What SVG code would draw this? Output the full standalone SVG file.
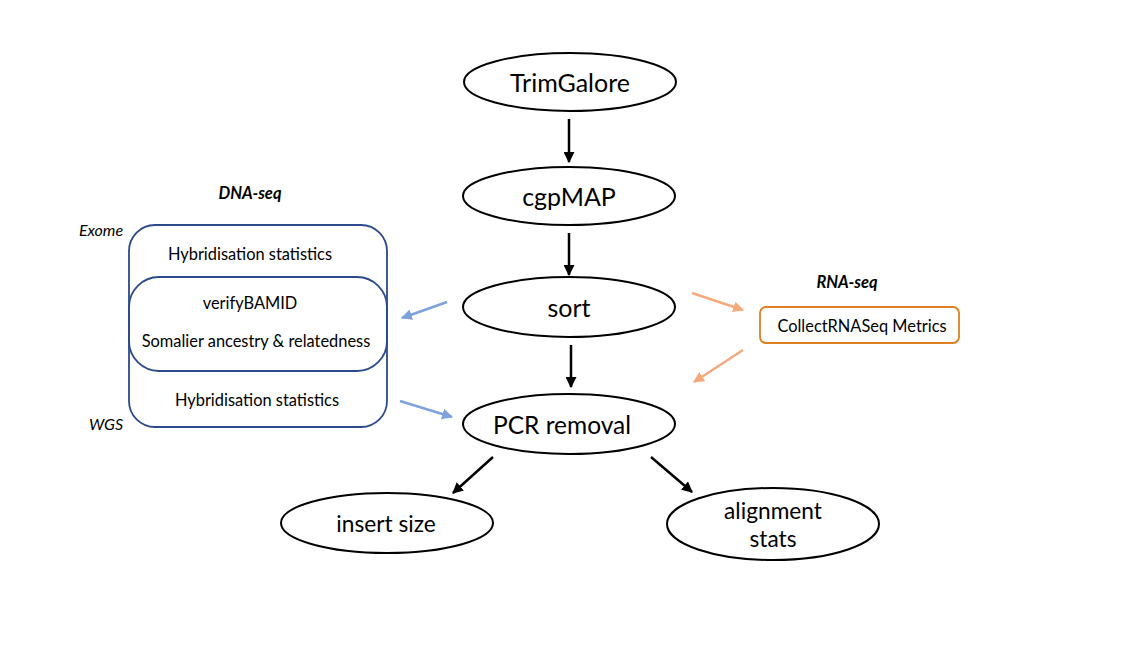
<svg xmlns="http://www.w3.org/2000/svg" width="1124" height="651" viewBox="0 0 1124 651">
<style>
text{font-family:Lato,"Open Sans","Liberation Sans",sans-serif;fill:#000;text-anchor:middle;dominant-baseline:central}
.ell{fill:#fff;stroke:#000;stroke-width:2}
.big{font-size:25px}
.pcr{font-size:24.5px}
.mid{font-size:22.7px}
.sm{font-size:16.4px}
.lbl{font-size:16.5px;font-weight:bold;font-style:italic}
.it{font-size:16px;font-style:italic}
.blk{stroke:#000;stroke-width:2.5;fill:none}
.blu{stroke:#7FA2DD;stroke-width:2.5;fill:none}
.org{stroke:#F4AA7C;stroke-width:2.5;fill:none}
.dna{fill:none;stroke:#2C4A8C;stroke-width:1.8}
</style>
<defs>
<marker id="ab" viewBox="0 0 10 10" refX="9" refY="5" markerWidth="11" markerHeight="11" markerUnits="userSpaceOnUse" orient="auto"><path d="M0,0 L10,5 L0,10 z" fill="#000"/></marker>
<marker id="au" viewBox="0 0 10 10" refX="9" refY="5" markerWidth="11" markerHeight="11" markerUnits="userSpaceOnUse" orient="auto"><path d="M0,0 L10,5 L0,10 z" fill="#7FA2DD"/></marker>
<marker id="ao" viewBox="0 0 10 10" refX="9" refY="5" markerWidth="11" markerHeight="11" markerUnits="userSpaceOnUse" orient="auto"><path d="M0,0 L10,5 L0,10 z" fill="#F4AA7C"/></marker>
</defs>
<rect width="1124" height="651" fill="#fff"/>
<g id="connectors">
<line class="blk" x1="569" y1="119" x2="569" y2="162" marker-end="url(#ab)"/>
<line class="blk" x1="569" y1="233" x2="569" y2="275" marker-end="url(#ab)"/>
<line class="blk" x1="571" y1="345" x2="571" y2="387" marker-end="url(#ab)"/>
<line class="blk" x1="493" y1="457" x2="453" y2="493" marker-end="url(#ab)"/>
<line class="blk" x1="651" y1="457" x2="692" y2="492" marker-end="url(#ab)"/>
<line class="blu" x1="447" y1="302" x2="402" y2="318" marker-end="url(#au)"/>
<line class="blu" x1="400" y1="401" x2="452" y2="417" marker-end="url(#au)"/>
<line class="org" x1="692" y1="293" x2="743" y2="310" marker-end="url(#ao)"/>
<line class="org" x1="743" y1="350" x2="694" y2="382" marker-end="url(#ao)"/>
</g>
<g id="trimgalore"><ellipse class="ell" cx="570" cy="82" rx="106" ry="29"/><text class="big" x="570" y="82">TrimGalore</text></g>
<g id="cgpmap"><ellipse class="ell" cx="569" cy="196" rx="106" ry="29"/><text class="big" x="569" y="196">cgpMAP</text></g>
<g id="sort"><ellipse class="ell" cx="569" cy="307" rx="106" ry="30"/><text class="big" x="569" y="307">sort</text></g>
<g id="pcr"><ellipse class="ell" cx="569" cy="424" rx="106" ry="30"/><text class="pcr" x="562" y="424">PCR removal</text></g>
<g id="insert"><ellipse class="ell" cx="387" cy="523" rx="106" ry="30"/><text class="mid" x="386" y="523">insert size</text></g>
<g id="alignment"><ellipse class="ell" cx="773" cy="524" rx="106" ry="36"/><text class="mid" x="773" y="510">alignment</text><text class="mid" x="773" y="538">stats</text></g>
<g id="dnaseq">
<text class="lbl" x="250" y="193">DNA-seq</text>
<text class="it" x="101" y="229">Exome</text>
<text class="it" x="106" y="423">WGS</text>
<rect class="dna" x="129" y="225" width="258" height="202" rx="26"/>
<rect class="dna" x="129" y="277" width="258" height="94" rx="30"/>
<text class="sm" x="250" y="253">Hybridisation statistics</text>
<text class="sm" x="250" y="302">verifyBAMID</text>
<text class="sm" x="256" y="340">Somalier ancestry &amp; relatedness</text>
<text class="sm" x="257" y="399">Hybridisation statistics</text>
</g>
<g id="rnaseq">
<text class="lbl" x="847" y="282">RNA-seq</text>
<rect x="760" y="307" width="199" height="36" rx="6" fill="#fff" stroke="#DD7F22" stroke-width="1.8"/>
<text class="sm" x="862" y="325">CollectRNASeq Metrics</text>
</g>
</svg>
